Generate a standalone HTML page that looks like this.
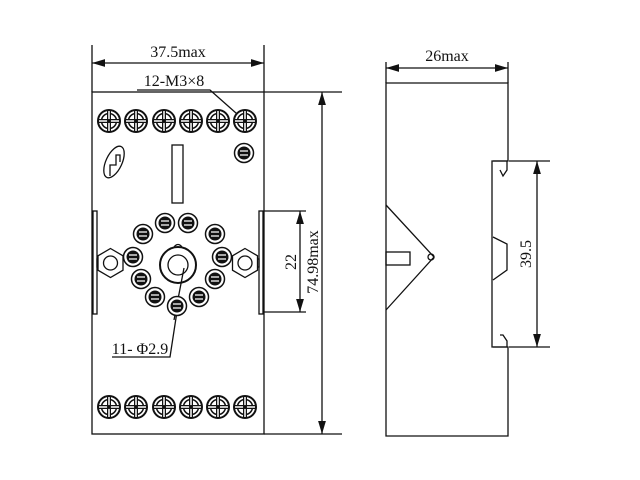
<!DOCTYPE html>
<html><head><style>body{margin:0;background:#fff}svg{display:block}text{font-family:"Liberation Serif",serif;fill:#111}</style></head>
<body>
<svg width="640" height="480" viewBox="0 0 640 480" xmlns="http://www.w3.org/2000/svg">
<defs>
<marker id="a" viewBox="0 0 10 6" refX="10" refY="3" markerWidth="10" markerHeight="6" orient="auto-start-reverse"><path d="M0,0 L10,3 L0,6 Z" fill="#111"/></marker>
<g id="scr"><circle r="11" fill="#fff" stroke="#111" stroke-width="2"/><circle r="7.5" fill="none" stroke="#111" stroke-width="1.5"/><path d="M-11,0H11M0,-11V11" stroke="#111" stroke-width="4"/><path d="M-10,0H10M0,-10V10" stroke="#fff" stroke-width="1.5"/><circle r="2" fill="#111"/></g>
<g id="pin"><circle r="9.5" fill="#fff" stroke="#111" stroke-width="1.5"/><circle r="6.5" fill="#111"/><path d="M-4,-2L4,-2M-4,2L4,2" stroke="#fff" stroke-width="1.2"/></g>
<polygon id="hex" points="0,-14.5 12.5,-7.2 12.5,7.2 0,14.5 -12.5,7.2 -12.5,-7.2" fill="#fff" stroke="#111" stroke-width="1.3"/>
</defs>
<g fill="none" stroke="#111" stroke-width="1.3">
<rect x="92" y="92" width="172" height="342"/>
<rect x="93" y="211" width="4" height="103"/><rect x="259" y="211" width="4" height="103"/>
<rect x="97" y="259" width="2" height="8"/><rect x="256" y="259" width="3" height="8"/>
<use href="#hex" x="110.5" y="263"/><circle cx="110.5" cy="263" r="7"/>
<use href="#hex" x="245" y="263"/><circle cx="245" cy="263" r="7"/>
<rect x="172" y="145" width="11" height="58"/>
<ellipse cx="114" cy="162" rx="8" ry="17" transform="rotate(25 114 162)"/>
<path d="M110,176V165H116V155H120V162"/>
<circle cx="178" cy="265" r="18" stroke-width="2"/>
<circle cx="178" cy="265" r="10"/>
<path d="M174,247Q178,242 182,247"/>
<path d="M92,92V45M264,92V45"/>
<line x1="92" y1="63" x2="264" y2="63" marker-start="url(#a)" marker-end="url(#a)"/>
<path d="M137,90H210L245,121"/>
<path d="M264,92H342M264,434H342"/>
<line x1="322" y1="92" x2="322" y2="434" marker-start="url(#a)" marker-end="url(#a)"/>
<path d="M264,211H306M264,312H306"/>
<line x1="300" y1="211" x2="300" y2="312" marker-start="url(#a)" marker-end="url(#a)"/>
<path d="M112,357H170L178,305M174,320L184,268"/>
<path d="M386,83H508V161H492V347H508V436H386Z"/>
<path d="M493,161H507V170L503,176L500,170"/>
<path d="M493,347H507V341L503,335H500"/>
<path d="M493,237L507,244V270L493,280"/>
<path d="M386,205L434,257L386,310"/>
<rect x="386" y="252" width="24" height="13"/>
<circle cx="431" cy="257" r="3"/>
<path d="M386,83V62M508,83V62"/>
<line x1="386" y1="68" x2="508" y2="68" marker-start="url(#a)" marker-end="url(#a)"/>
<path d="M509,161H550M509,347H550"/>
<line x1="537" y1="161" x2="537" y2="347" marker-start="url(#a)" marker-end="url(#a)"/>
</g>
<g>
<use href="#scr" x="109" y="121"/><use href="#scr" x="136" y="121"/><use href="#scr" x="164" y="121"/><use href="#scr" x="191" y="121"/><use href="#scr" x="218" y="121"/><use href="#scr" x="245" y="121"/>
<use href="#scr" x="109" y="407"/><use href="#scr" x="136" y="407"/><use href="#scr" x="164" y="407"/><use href="#scr" x="191" y="407"/><use href="#scr" x="218" y="407"/><use href="#scr" x="245" y="407"/>
<use href="#pin" x="244" y="153"/>
<use href="#pin" x="165" y="223"/><use href="#pin" x="188" y="223"/><use href="#pin" x="215" y="234"/><use href="#pin" x="222" y="257"/><use href="#pin" x="215" y="279"/><use href="#pin" x="199" y="297"/><use href="#pin" x="177" y="306"/><use href="#pin" x="155" y="297"/><use href="#pin" x="141" y="279"/><use href="#pin" x="133" y="257"/><use href="#pin" x="143" y="234"/>
</g>
<text x="178" y="57" font-size="16" text-anchor="middle">37.5max</text>
<text x="174" y="86" font-size="16" text-anchor="middle">12-M3×8</text>
<text x="140" y="354" font-size="16" text-anchor="middle">11- Φ2.9</text>
<text x="447" y="61" font-size="16" text-anchor="middle">26max</text>
<text transform="translate(296,262) rotate(-90)" font-size="16" text-anchor="middle">22</text>
<text transform="translate(318,262) rotate(-90)" font-size="16" text-anchor="middle">74.98max</text>
<text transform="translate(531,254) rotate(-90)" font-size="16" text-anchor="middle">39.5</text>
</svg>
</body></html>
